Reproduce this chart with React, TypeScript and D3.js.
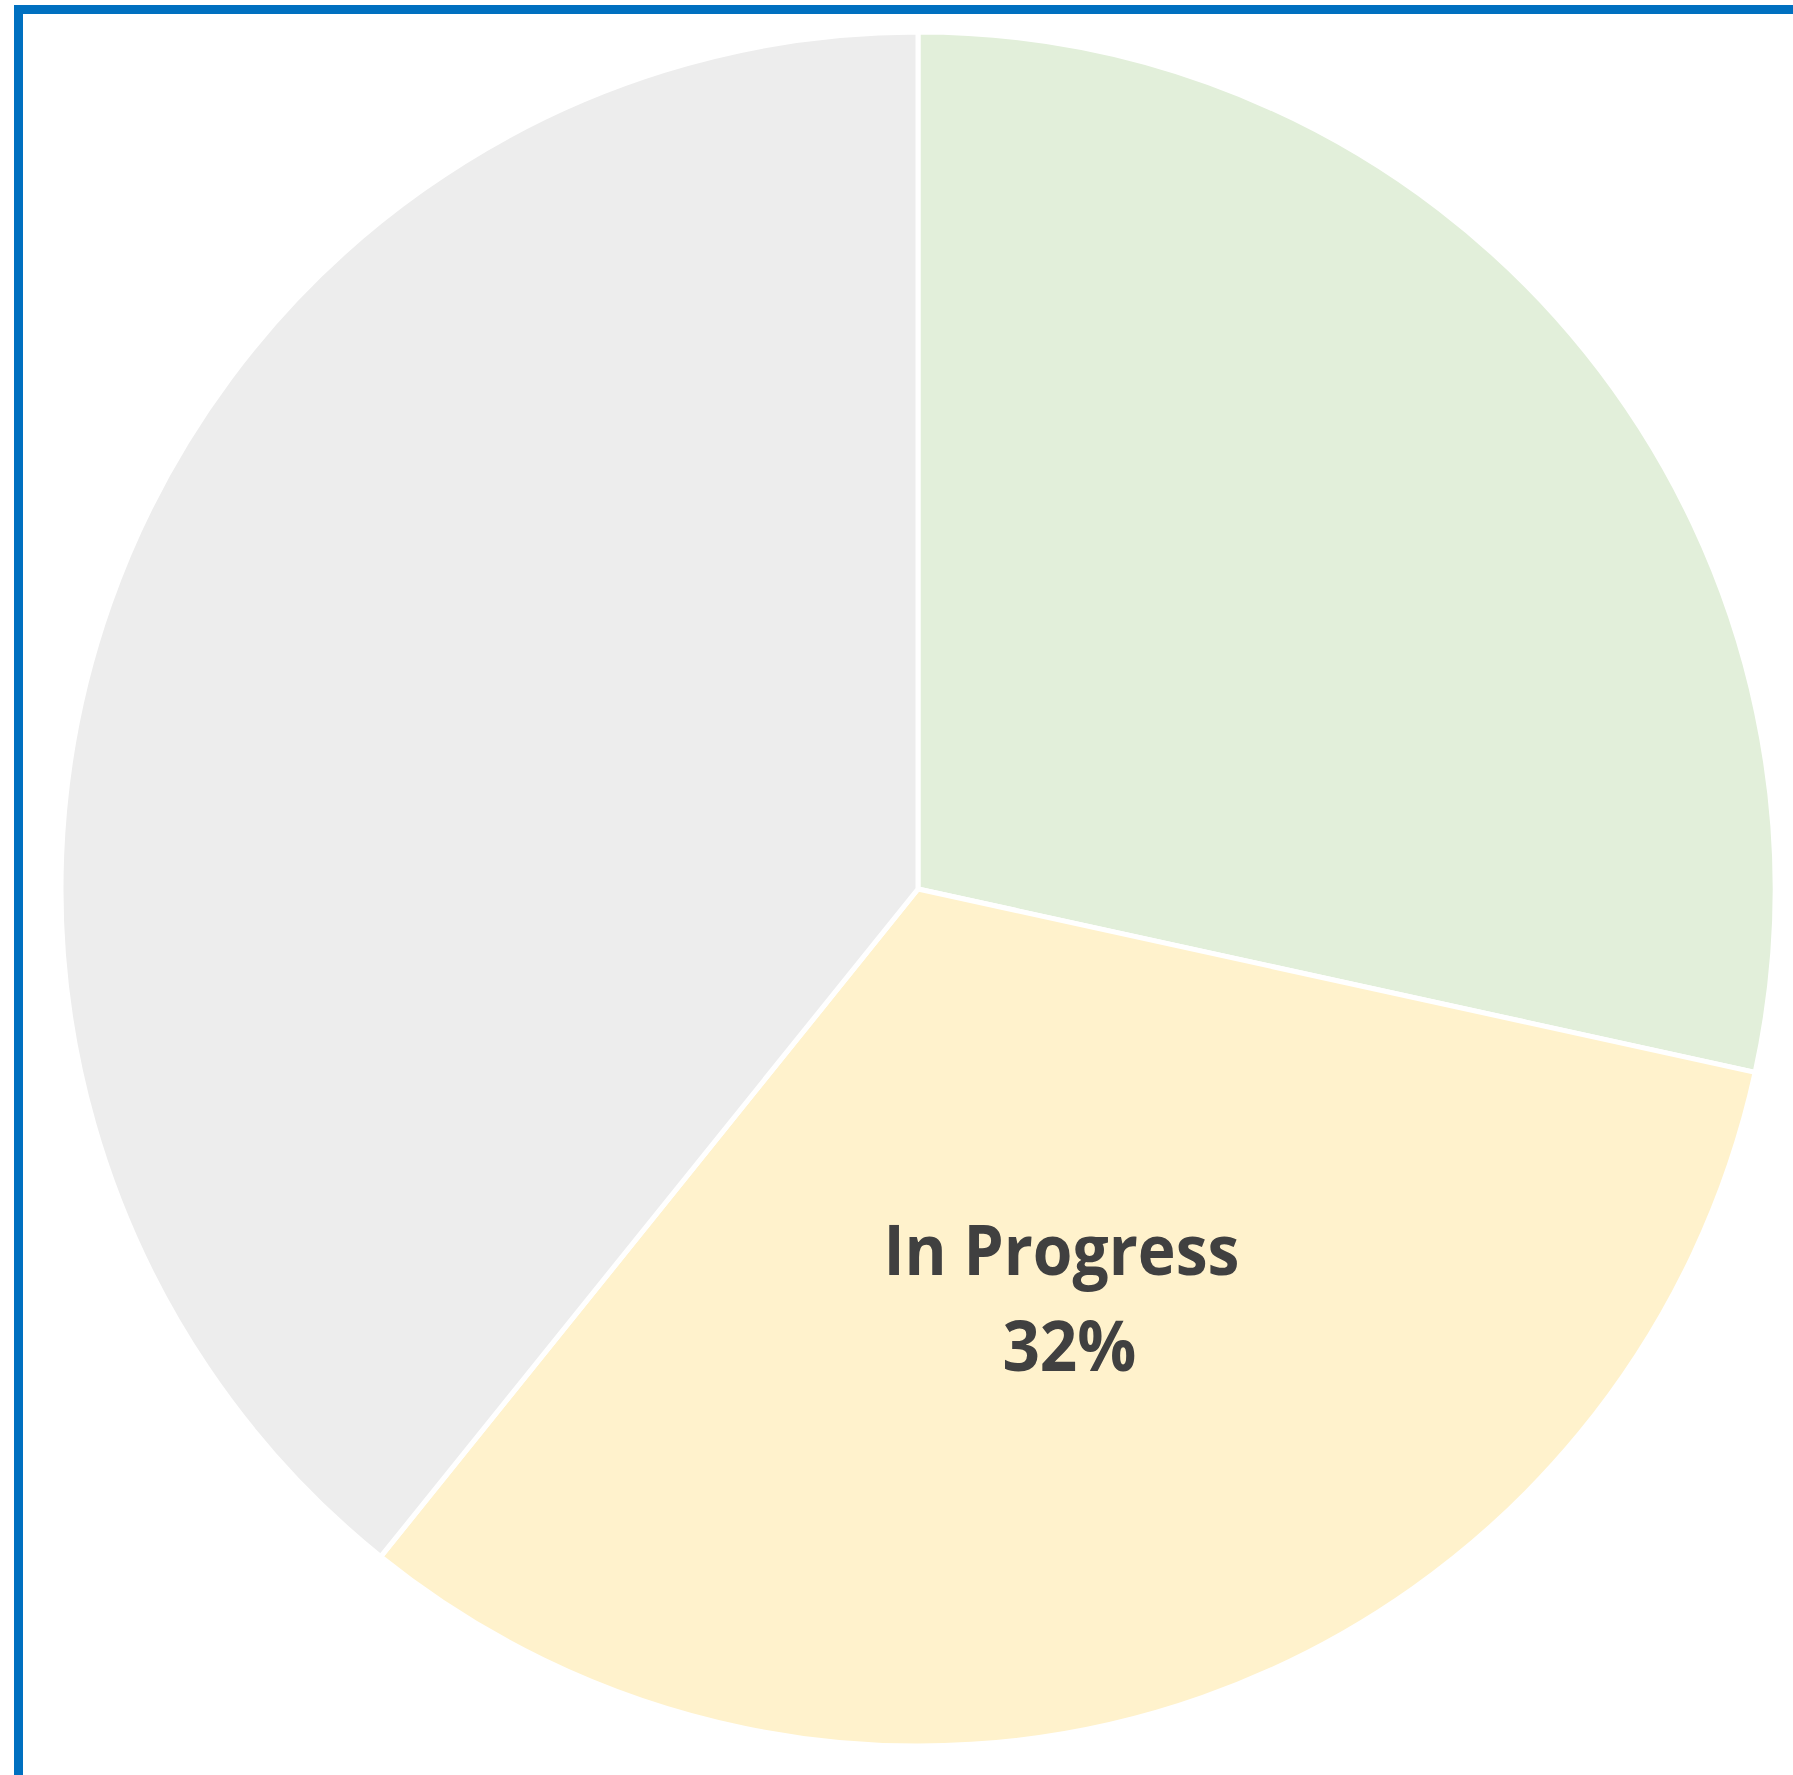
import * as d3 from "d3";
import { useRef, useEffect } from "react";

// task status counts
const categories = ["Complete", "In Progress", "Not Started"];
const counts = [29, 33, 40];
const colors = ["#E2EFDA", "#FFF2CC", "#EDEDED"];
const labelled = ["In Progress"];

export default function App() {
  const svgRef = useRef<SVGSVGElement>(null);

  useEffect(() => {
    const width = 1793;
    const height = 1775;
    const cx = 918;
    const cy = 889;
    const radius = 857;

    const svg = d3.select(svgRef.current);
    svg.selectAll("*").remove();
    svg.attr("width", width).attr("height", height);

    svg.append("rect")
      .attr("x", 0).attr("y", 0)
      .attr("width", width).attr("height", height)
      .attr("fill", "#fff");

    // blue frame, runs off the right and bottom edges
    svg.append("rect")
      .attr("x", 18.5).attr("y", 9.5)
      .attr("width", 2400).attr("height", 2400)
      .attr("fill", "none")
      .attr("stroke", "#0070C0")
      .attr("stroke-width", 9);

    const data = categories.map((c, i) => ({ name: c, value: counts[i], color: colors[i] }));
    const total = d3.sum(counts);

    const pie = d3.pie<any>().value((d) => d.value).sort(null);
    const arc = d3.arc<any>().innerRadius(0).outerRadius(radius);
    const labelArc = d3.arc<any>().innerRadius(radius * 0.535).outerRadius(radius * 0.535);

    const g = svg.append("g").attr("transform", `translate(${cx},${cy})`);

    g.selectAll("path")
      .data(pie(data))
      .enter()
      .append("path")
      .attr("d", arc)
      .attr("fill", (d) => d.data.color)
      .attr("stroke", "#fff")
      .attr("stroke-width", 5)
      .attr("stroke-linejoin", "round");

    const labels = g.selectAll("text.lbl")
      .data(pie(data).filter((d) => labelled.includes(d.data.name)))
      .enter()
      .append("text")
      .attr("class", "lbl")
      .attr("transform", (d) => {
        const [x, y] = labelArc.centroid(d);
        return `translate(${x},${y})`;
      })
      .attr("text-anchor", "middle")
      .attr("fill", "#404040")
      .attr("font-family", "'Open Sans', 'Noto Sans', sans-serif")
      .attr("font-weight", "bold")
      .attr("font-size", 70);

    labels.append("tspan")
      .attr("x", -9)
      .attr("y", -46)
      .attr("textLength", 356)
      .attr("lengthAdjust", "spacingAndGlyphs")
      .text((d) => d.data.name);

    labels.append("tspan")
      .attr("x", -1)
      .attr("y", 50)
      .attr("textLength", 134)
      .attr("lengthAdjust", "spacingAndGlyphs")
      .text((d) => Math.round((d.data.value / total) * 100) + "%");
  }, []);

  return (
    <div style={{ position: "absolute", left: 0, top: 0, width: 1793, height: 1775, overflow: "hidden" }}>
      <svg ref={svgRef} style={{ display: "block" }}></svg>
    </div>
  );
}
